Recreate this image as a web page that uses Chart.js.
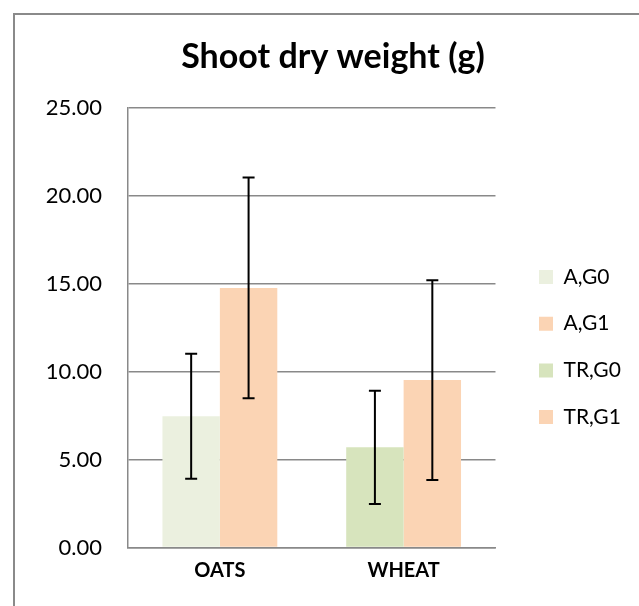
<!DOCTYPE html>
<html>
<head>
<meta charset="utf-8">
<script src="https://cdn.jsdelivr.net/npm/chart.js@4/dist/chart.umd.min.js"></script>
<style>
    html, body { margin: 0; padding: 0; background: #fff; overflow: hidden; }
    #frame {
        position: absolute; left: 13px; top: 13px; width: 700px; height: 700px;
        border-left: 2px solid #8a8a8a; border-top: 2px solid #8a8a8a;
    }
    #wrap { position: absolute; left: 0; top: 0; width: 639px; height: 606px; }
</style>
</head>
<body>
<div id="frame"></div>
<div id="wrap"><canvas id="chart" width="639" height="606"></canvas></div>
<script>
// Chart data
const categories = ['OATS', 'WHEAT'];
const seriesLabels = ['A,G0', 'A,G1', 'TR,G0', 'TR,G1'];
const seriesColors = ['#EBF0DF', '#FBD4B4', '#D7E4BD', '#FBD4B4'];

const aG0 = [7.46, null];
const aG1 = [14.76, null];
const trG0 = [null, 5.70];
const trG1 = [null, 9.52];

// error bar half widths (+/-)
const aG0Err = [3.55, null];
const aG1Err = [6.27, null];
const trG0Err = [null, 3.22];
const trG1Err = [null, 5.68];

const yMin = 0;
const yMax = 25;
const yStep = 5;

const seriesValues = [aG0, aG1, trG0, trG1];
const seriesErrors = [aG0Err, aG1Err, trG0Err, trG1Err];

// Draws black error bars with caps on every bar
const errorBarPlugin = {
    id: 'errorBars',
    afterDatasetsDraw(chart) {
        const ctx = chart.ctx;
        const yScale = chart.scales.y;
        ctx.save();
        ctx.strokeStyle = '#000';
        ctx.lineWidth = 2;
        chart.data.datasets.forEach((ds, di) => {
            const meta = chart.getDatasetMeta(di);
            meta.data.forEach((bar, i) => {
                const v = ds.data[i];
                const err = ds.errors[i];
                if (v === null || err === null) return;
                const x = bar.x;
                const yTop = yScale.getPixelForValue(v + err);
                const yBot = yScale.getPixelForValue(v - err);
                const cap = 6;
                ctx.beginPath();
                ctx.moveTo(x, yTop); ctx.lineTo(x, yBot);
                ctx.moveTo(x - cap, yTop); ctx.lineTo(x + cap, yTop);
                ctx.moveTo(x - cap, yBot); ctx.lineTo(x + cap, yBot);
                ctx.stroke();
            });
        });
        ctx.restore();
    }
};

// Nudges title and legend to where the original chart put them
const placementPlugin = {
    id: 'placement',
    afterLayout(chart) {
        const title = chart.titleBlock;
        title.left = 27;
        title.right = 639;
        const legend = chart.legend;
        const w = legend.width;
        legend.left = 513.3;
        legend.right = legend.left + w;
        const h = legend.height;
        legend.top = 240.8;
        legend.bottom = legend.top + h;
    }
};

const ctx = document.getElementById('chart').getContext('2d');
new Chart(ctx, {
    type: 'bar',
    data: {
        labels: categories,
        datasets: seriesLabels.map((label, i) => ({
            label: label,
            data: seriesValues[i],
            errors: seriesErrors[i],
            backgroundColor: seriesColors[i],
            borderWidth: 0,
            skipNull: true,
            categoryPercentage: 0.625,
            barPercentage: 1
        }))
    },
    options: {
        responsive: false,
        animation: false,
        events: [],
        layout: { padding: { left: 0, right: 26, top: 0, bottom: 12.4 } },
        plugins: {
            title: {
                display: true,
                text: 'Shoot dry weight (g)',
                color: '#000',
                font: { family: 'Lato', size: 34, weight: 'bold' },
                padding: { top: 36.6, bottom: 30.3 }
            },
            legend: {
                position: 'right',
                align: 'start',
                fullSize: false,
                labels: {
                    color: '#000',
                    font: { family: 'Lato', size: 21 },
                    boxWidth: 14,
                    boxHeight: 14,
                    padding: 25.7
                }
            },
            tooltip: { enabled: false }
        },
        scales: {
            x: {
                grid: { display: false, drawTicks: false },
                border: { display: true, color: '#898989', width: 1.5 },
                ticks: {
                    color: '#000',
                    padding: 11,
                    font: { family: 'Lato', size: 20, weight: 'bold' }
                }
            },
            y: {
                min: yMin,
                max: yMax,
                afterFit(scale) { scale.width = 128; },
                grid: { color: '#898989', lineWidth: 1.5, drawTicks: false },
                border: { display: true, color: '#898989', width: 1.5 },
                ticks: {
                    stepSize: yStep,
                    color: '#000',
                    padding: 26,
                    font: { family: 'Lato', size: 22 },
                    callback: value => value.toFixed(2)
                }
            }
        }
    },
    plugins: [errorBarPlugin, placementPlugin]
});
</script>
</body>
</html>
